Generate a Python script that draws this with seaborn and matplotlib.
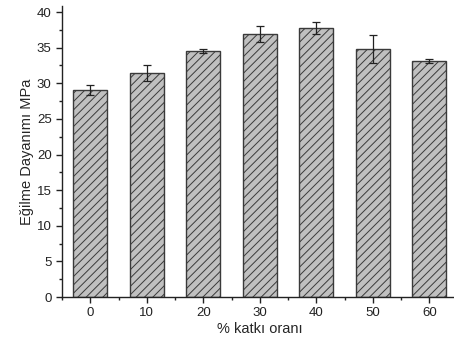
import matplotlib
matplotlib.use("Agg")
import matplotlib.pyplot as plt
import seaborn as sns
import pandas as pd
from matplotlib.ticker import MultipleLocator

# data
katki = ["0", "10", "20", "30", "40", "50", "60"]
dayanim = [29.1, 31.4, 34.5, 36.9, 37.8, 34.8, 33.1]
hata = [0.7, 1.1, 0.3, 1.1, 0.85, 2.0, 0.25]

sns.set_style("ticks")
plt.rcParams["font.family"] = ["Liberation Sans", "DejaVu Sans"]
plt.rcParams["hatch.linewidth"] = 0.7
plt.rcParams["hatch.color"] = "#505050"

df = pd.DataFrame({"katki": katki, "dayanim": dayanim})

fig = plt.figure(figsize=(4.54, 3.42), dpi=100)
ax = fig.add_axes([62 / 454, 45 / 342, 395.5 / 454, 291 / 342])

sns.barplot(data=df, x="katki", y="dayanim", color="#c0c0c0", saturation=1,
            width=0.6, errorbar=None, edgecolor="#3a3a3a", linewidth=1.0,
            hatch="////", ax=ax)
ax.errorbar(range(len(katki)), dayanim, yerr=hata, fmt="none", ecolor="#222222",
            elinewidth=0.9, capsize=3, capthick=0.9)

ax.set_xlim(-0.5, 6.5)
ax.set_ylim(0, 40.85)
ax.yaxis.set_major_locator(MultipleLocator(5))
ax.yaxis.set_minor_locator(MultipleLocator(2.5))
ax.xaxis.set_minor_locator(MultipleLocator(0.5))
for s in ["top", "right"]:
    ax.spines[s].set_visible(False)
for s in ["left", "bottom"]:
    ax.spines[s].set_linewidth(1.0)
    ax.spines[s].set_color("#222222")
ax.tick_params(axis="both", which="major", direction="out", length=4, width=1,
               labelsize=9.5, colors="#222222")
ax.tick_params(axis="both", which="minor", direction="out", length=2.5, width=1,
               colors="#222222")
ax.set_xlabel("% katkı oranı", fontsize=10.5, labelpad=2)
ax.set_ylabel("Eğilme Dayanımı MPa", fontsize=10.5, labelpad=2)

fig.savefig("out.png", dpi=100)
